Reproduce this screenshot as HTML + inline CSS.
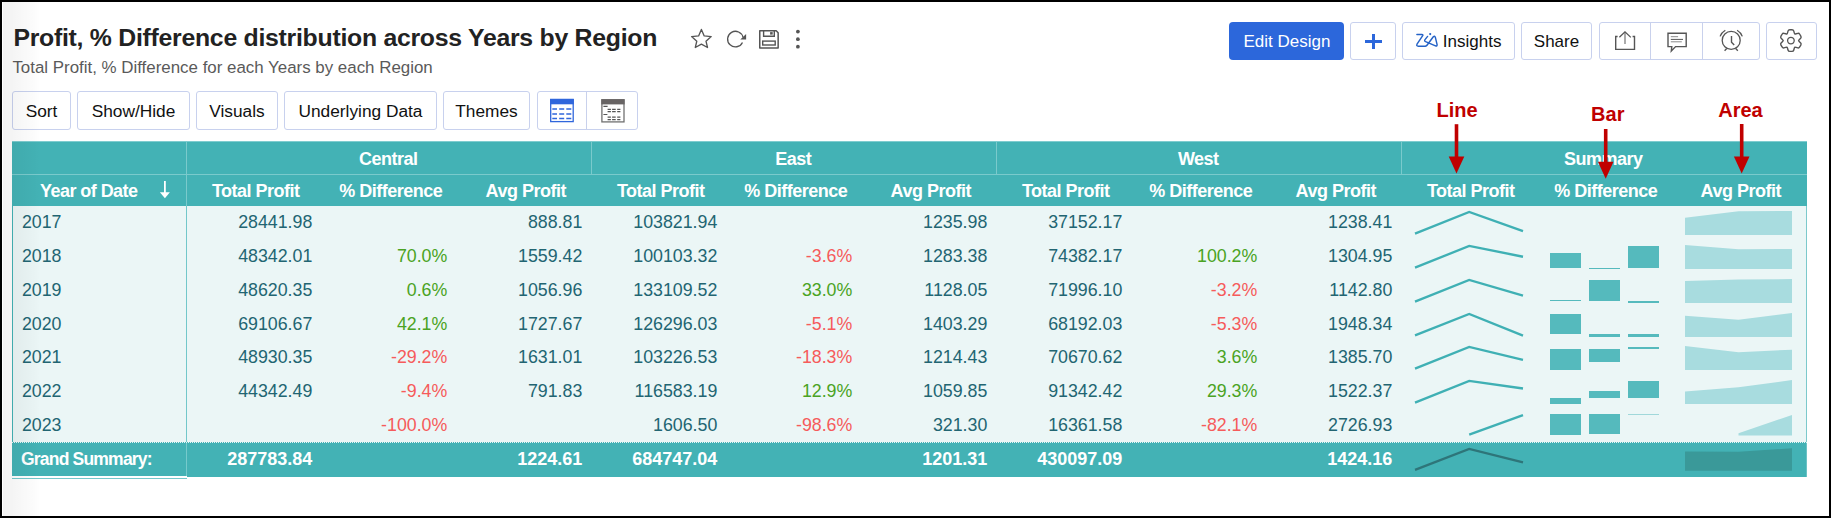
<!DOCTYPE html>
<html><head><meta charset="utf-8"><style>
html,body{margin:0;padding:0;}
body{width:1831px;height:518px;overflow:hidden;position:relative;background:#fff;font-family:"Liberation Sans", sans-serif;}
#frame{position:absolute;left:0;top:0;width:1831px;height:518px;box-sizing:border-box;border:2px solid #000;
background:#fff;}
#shade{position:absolute;left:3px;top:2px;width:40px;height:514px;background:linear-gradient(to right,rgba(0,0,0,0.052) 0px,rgba(0,0,0,0.046) 6px,rgba(0,0,0,0.036) 14px,rgba(0,0,0,0.024) 23px,rgba(0,0,0,0.012) 31px,rgba(0,0,0,0) 37px);}
.a{position:absolute;}
.t{position:absolute;white-space:nowrap;font-family:"Liberation Sans", sans-serif;}
.b{position:absolute;box-sizing:border-box;border:1px solid #c8d1ee;border-radius:3px;background:transparent;}
</style></head><body>
<div id="frame"></div>
<div class="t" style="top:26.00px;font-size:24.8px;line-height:24.8px;color:#222;font-weight:700;letter-spacing:-0.26px;left:13.40px;">Profit, % Difference distribution across Years by Region</div>
<div class="t" style="top:60.00px;font-size:16.9px;line-height:16.9px;color:#5a5a5a;font-weight:400;left:12.40px;">Total Profit, % Difference for each Years by each Region</div>
<svg class="a" style="left:688px;top:26px" width="120" height="26" viewBox="688 26 120 26">
<path d="M701.4 29.4 L704.2 35.9 L711.2 36.6 L706 41.2 L707.5 47.5 L701.4 44.2 L695.3 47.5 L696.8 41.2 L691.6 36.6 L698.6 35.9 Z" fill="none" stroke="#555" stroke-width="1.35" stroke-linejoin="round"/>
<path d="M742.47 42.4 A7.8 7.8 0 1 1 743.03 37.48" fill="none" stroke="#555" stroke-width="1.3"/>
<path d="M746.1 34 L746.1 39.6 L740.3 39.6 Z" fill="#555"/>
<path d="M759.75 30.75 H776.2 L778.15 32.7 V48.05 H759.75 Z" fill="none" stroke="#555" stroke-width="1.5" stroke-linejoin="round"/>
<path d="M763.6 31 V36.25 H774.3 V31" fill="none" stroke="#555" stroke-width="1.4"/>
<rect x="770.1" y="32.1" width="2.6" height="2.5" fill="#555"/>
<rect x="762.7" y="41.1" width="12.5" height="3.9" fill="none" stroke="#555" stroke-width="1.4"/>
<circle cx="797.9" cy="31.6" r="1.9" fill="#555"/><circle cx="797.9" cy="39.2" r="1.9" fill="#555"/><circle cx="797.9" cy="46.7" r="1.9" fill="#555"/>
</svg>
<div class="b" style="left:12px;top:91px;width:59px;height:39px;"></div>
<div class="t" style="top:103.00px;font-size:17.3px;line-height:17.3px;color:#111;font-weight:400;left:-258.50px;width:600px;text-align:center;">Sort</div>
<div class="b" style="left:77px;top:91px;width:113px;height:39px;"></div>
<div class="t" style="top:103.00px;font-size:17.3px;line-height:17.3px;color:#111;font-weight:400;left:-166.50px;width:600px;text-align:center;">Show/Hide</div>
<div class="b" style="left:196px;top:91px;width:82px;height:39px;"></div>
<div class="t" style="top:103.00px;font-size:17.3px;line-height:17.3px;color:#111;font-weight:400;left:-63.00px;width:600px;text-align:center;">Visuals</div>
<div class="b" style="left:284px;top:91px;width:153px;height:39px;"></div>
<div class="t" style="top:103.00px;font-size:17.3px;line-height:17.3px;color:#111;font-weight:400;left:60.50px;width:600px;text-align:center;">Underlying Data</div>
<div class="b" style="left:443px;top:91px;width:87px;height:39px;"></div>
<div class="t" style="top:103.00px;font-size:17.3px;line-height:17.3px;color:#111;font-weight:400;left:186.50px;width:600px;text-align:center;">Themes</div>
<div class="b" style="left:537px;top:91px;width:101px;height:39px;"></div>
<div class="a" style="left:586px;top:91px;width:1px;height:39px;background:#c9d1ec"></div>
<svg class="a" style="left:548px;top:96px" width="80" height="30" viewBox="548 96 80 30">
<rect x="550.7" y="99.5" width="22.5" height="22.1" fill="none" stroke="#2f66dc" stroke-width="1.3"/>
<rect x="550" y="98.9" width="23.8" height="5.4" fill="#2f66dc"/>
<g stroke="#2f66dc" stroke-width="1.5">
<path d="M552.3 109.1 h4.7 M559.2 109.1 h5 M566.3 109.1 h5 M552.3 113.9 h4.7 M559.2 113.9 h5 M566.3 113.9 h5 M552.3 118.4 h4.7 M559.2 118.4 h5 M566.3 118.4 h5"/>
</g>
<rect x="601.9" y="99.8" width="22.1" height="22.1" fill="none" stroke="#707070" stroke-width="1.3"/>
<rect x="601.3" y="99.2" width="23.3" height="5.2" fill="#686464"/>
<g stroke="#555" stroke-width="1.2">
<path d="M603.4 106.4 h4.2 M603.4 114.5 h4 M607.6 109.4 h3.3 M612.1 109.4 h3.6 M617.2 109.4 h3.2 M607.6 111.7 h3.3 M612.1 111.7 h3.6 M617.2 111.7 h3.2 M607.6 117.2 h3.3 M612.1 117.2 h3.6 M617.2 117.2 h3.2 M607.6 119.6 h3.3 M612.1 119.6 h3.6 M617.2 119.6 h3.2"/>
</g>
</svg>
<div class="a" style="left:1229px;top:22px;width:115px;height:38px;background:#2c67db;border-radius:4px"></div>
<div class="t" style="top:33.00px;font-size:17px;line-height:17px;color:#fff;font-weight:400;left:987.00px;width:600px;text-align:center;">Edit Design</div>
<div class="b" style="left:1350px;top:22px;width:46px;height:38px;"></div>
<div class="a" style="left:1365px;top:39.8px;width:17px;height:3px;background:#2c67db"></div><div class="a" style="left:1372px;top:33.5px;width:3px;height:15.5px;background:#2c67db"></div>
<div class="b" style="left:1402px;top:22px;width:113px;height:38px;"></div>
<svg class="a" style="left:1412px;top:30px" width="30" height="20" viewBox="1412 30 30 20">
<g fill="none" stroke="#2462c6" stroke-width="1.45" stroke-linejoin="round" stroke-linecap="round">
<path d="M1416.9 34.4 H1421.9 Q1423.4 34.5 1422.7 35.7 L1417 44.2 Q1416.1 46.2 1418.3 46.2 H1425.3 Q1426.5 46.1 1427.2 45 L1433.3 36.8 Q1434.6 35.6 1435.3 37.2 L1437.1 44.6 Q1437.3 46.4 1435.5 45.8 L1425.6 41.7 Q1424.1 41 1425 39.6 L1427.6 36.4"/>
</g>
<circle cx="1430.2" cy="34.1" r="1.1" fill="#2462c6"/>
</svg>
<div class="t" style="top:33.00px;font-size:17px;line-height:17px;color:#111;font-weight:400;left:1442.80px;">Insights</div>
<div class="b" style="left:1521px;top:22px;width:71px;height:38px;"></div>
<div class="t" style="top:33.00px;font-size:17px;line-height:17px;color:#111;font-weight:400;left:1256.50px;width:600px;text-align:center;">Share</div>
<div class="b" style="left:1599px;top:22px;width:161px;height:38px;"></div>
<div class="a" style="left:1650px;top:22px;width:1px;height:38px;background:#c9d1ec"></div><div class="a" style="left:1702px;top:22px;width:1px;height:38px;background:#c9d1ec"></div>
<div class="b" style="left:1766px;top:22px;width:51px;height:38px;"></div>
<svg class="a" style="left:1610px;top:26px" width="200" height="30" viewBox="1610 26 200 30">
<g fill="none" stroke="#555" stroke-width="1.5">
<path d="M1617.6 36.5 H1615.7 V49.4 H1634.5 V36.5 H1632.6" stroke-width="1.4"/>
<path d="M1625 32.6 V44" stroke="#888" stroke-width="1.4"/>
<path d="M1619.4 37.3 L1625 31.9 L1630.8 37.4" stroke-width="1.3"/>
<path d="M1668 33.2 H1686.2 V46.6 H1675.6 L1671.3 51 L1671.8 46.6 H1668 Z" stroke-width="1.4" stroke-linejoin="miter"/>
<path d="M1670.8 36.7 H1678.1 M1670.8 41.8 H1681.8" stroke="#8a8a8a" stroke-width="1"/>
<path d="M1670.8 39.4 H1683" stroke-width="1"/>
<circle cx="1731.2" cy="40.4" r="9.0" stroke-width="1.3"/>
<path d="M1731.5 36 V42.2 L1734.2 45" stroke-width="1.4"/>
<path d="M1720.1 36.4 A11.8 11.8 0 0 1 1725.3 30.2" stroke-width="1.3"/>
<path d="M1737.1 30.2 A11.8 11.8 0 0 1 1742.3 36.4" stroke-width="1.3"/>
<path d="M1726.7 48.6 L1724.6 50.7 M1735.7 48.6 L1737.8 50.7" stroke-width="1.4"/>
</g>
<g transform="translate(1790.9 40.6)" fill="none" stroke="#555" stroke-width="1.4" stroke-linejoin="round">
<path d="M-3.30 -7.92 L-2.81 -9.69 Q-2.50 -10.82 -1.10 -10.82 L1.10 -10.82 Q2.50 -10.82 2.81 -9.69 L3.30 -7.92 Q3.61 -6.80 3.75 -6.72 L3.95 -6.61 Q4.08 -6.53 5.21 -6.82 L6.99 -7.28 Q8.12 -7.57 8.82 -6.36 L9.92 -4.46 Q10.61 -3.25 9.80 -2.41 L8.51 -1.10 Q7.70 -0.27 7.70 -0.12 L7.70 0.12 Q7.70 0.27 8.51 1.10 L9.80 2.41 Q10.61 3.25 9.92 4.46 L8.82 6.36 Q8.12 7.57 6.99 7.28 L5.21 6.82 Q4.08 6.53 3.95 6.61 L3.75 6.72 Q3.61 6.80 3.30 7.92 L2.81 9.69 Q2.50 10.82 1.10 10.82 L-1.10 10.82 Q-2.50 10.82 -2.81 9.69 L-3.30 7.92 Q-3.61 6.80 -3.75 6.72 L-3.95 6.61 Q-4.08 6.53 -5.21 6.82 L-6.99 7.28 Q-8.12 7.57 -8.82 6.36 L-9.92 4.46 Q-10.61 3.25 -9.80 2.41 L-8.51 1.10 Q-7.70 0.27 -7.70 0.12 L-7.70 -0.12 Q-7.70 -0.27 -8.51 -1.10 L-9.80 -2.41 Q-10.61 -3.25 -9.92 -4.46 L-8.82 -6.36 Q-8.12 -7.57 -6.99 -7.28 L-5.21 -6.82 Q-4.08 -6.53 -3.95 -6.61 L-3.75 -6.72 Q-3.61 -6.80 -3.30 -7.92 Z"/>
<circle r="3.3" stroke-width="1.3"/>
</g>
</svg>
<div class="t" style="top:100.00px;font-size:20px;line-height:20px;color:#c00000;font-weight:700;left:1436.50px;">Line</div>
<div class="t" style="top:104.00px;font-size:20px;line-height:20px;color:#c00000;font-weight:700;left:1591.10px;">Bar</div>
<div class="t" style="top:100.00px;font-size:20px;line-height:20px;color:#c00000;font-weight:700;left:1718.20px;">Area</div>
<div class="a" style="left:12px;top:141px;width:1795px;height:65px;background:#43b2b5"></div>
<div class="a" style="left:12px;top:206px;width:1795px;height:236px;background:#ebf6f6"></div>
<div class="a" style="left:12px;top:442px;width:174px;height:34px;background:#43b2b5"></div>
<div class="a" style="left:187px;top:442px;width:1620px;height:35px;background:#43b2b5"></div>
<div class="a" style="left:12px;top:174px;width:1795px;height:1px;background:#7acacc"></div>
<div class="a" style="left:186px;top:141px;width:1px;height:33px;background:#7acacc"></div>
<div class="a" style="left:591px;top:141px;width:1px;height:33px;background:#7acacc"></div>
<div class="a" style="left:996px;top:141px;width:1px;height:33px;background:#7acacc"></div>
<div class="a" style="left:1401px;top:141px;width:1px;height:33px;background:#7acacc"></div>
<div class="a" style="left:186px;top:174px;width:1px;height:32px;background:#7acacc"></div>
<div class="a" style="left:186px;top:206px;width:1px;height:236px;background:#72c7ca"></div>
<div class="a" style="left:186px;top:442px;width:1px;height:34px;background:#76cacc"></div>
<div class="a" style="left:12px;top:141px;width:1795px;height:1px;background:#7fcccf"></div>
<div class="a" style="left:12px;top:206px;width:1px;height:236px;background:#43b2b5"></div>
<div class="a" style="left:1806px;top:206px;width:1px;height:236px;background:#7cc9cc"></div>
<div class="a" style="left:1806px;top:443px;width:1px;height:34px;background:#6cc2c5"></div>
<div class="a" style="left:12px;top:478px;width:175px;height:1px;background:#74c8cb"></div>
<div class="a" style="left:12px;top:442px;width:1795px;height:0;border-top:1px dotted #e8f5f5"></div>
<div class="t" style="top:150.00px;font-size:18px;line-height:18px;color:#fff;font-weight:700;letter-spacing:-0.5px;left:88.25px;width:600px;text-align:center;">Central</div>
<div class="t" style="top:150.00px;font-size:18px;line-height:18px;color:#fff;font-weight:700;letter-spacing:-0.5px;left:493.25px;width:600px;text-align:center;">East</div>
<div class="t" style="top:150.00px;font-size:18px;line-height:18px;color:#fff;font-weight:700;letter-spacing:-0.5px;left:898.25px;width:600px;text-align:center;">West</div>
<div class="t" style="top:150.00px;font-size:18px;line-height:18px;color:#fff;font-weight:700;letter-spacing:-0.5px;left:1303.25px;width:600px;text-align:center;">Summary</div>
<div class="t" style="top:182.00px;font-size:18px;line-height:18px;color:#fff;font-weight:700;letter-spacing:-0.55px;left:40.00px;">Year of Date</div>
<svg class="a" style="left:158px;top:180px" width="14" height="20" viewBox="158 180 14 20"><path d="M164.9 181 V194" stroke="#fff" stroke-width="1.8"/><path d="M159.9 192.3 H169.9 L164.9 198.2 Z" fill="#fff"/></svg>
<div class="t" style="top:182.00px;font-size:18px;line-height:18px;color:#fff;font-weight:700;letter-spacing:-0.5px;left:-44.25px;width:600px;text-align:center;">Total Profit</div>
<div class="t" style="top:182.00px;font-size:18px;line-height:18px;color:#fff;font-weight:700;letter-spacing:-0.5px;left:90.75px;width:600px;text-align:center;">% Difference</div>
<div class="t" style="top:182.00px;font-size:18px;line-height:18px;color:#fff;font-weight:700;letter-spacing:-0.5px;left:225.75px;width:600px;text-align:center;">Avg Profit</div>
<div class="t" style="top:182.00px;font-size:18px;line-height:18px;color:#fff;font-weight:700;letter-spacing:-0.5px;left:360.75px;width:600px;text-align:center;">Total Profit</div>
<div class="t" style="top:182.00px;font-size:18px;line-height:18px;color:#fff;font-weight:700;letter-spacing:-0.5px;left:495.75px;width:600px;text-align:center;">% Difference</div>
<div class="t" style="top:182.00px;font-size:18px;line-height:18px;color:#fff;font-weight:700;letter-spacing:-0.5px;left:630.75px;width:600px;text-align:center;">Avg Profit</div>
<div class="t" style="top:182.00px;font-size:18px;line-height:18px;color:#fff;font-weight:700;letter-spacing:-0.5px;left:765.75px;width:600px;text-align:center;">Total Profit</div>
<div class="t" style="top:182.00px;font-size:18px;line-height:18px;color:#fff;font-weight:700;letter-spacing:-0.5px;left:900.75px;width:600px;text-align:center;">% Difference</div>
<div class="t" style="top:182.00px;font-size:18px;line-height:18px;color:#fff;font-weight:700;letter-spacing:-0.5px;left:1035.75px;width:600px;text-align:center;">Avg Profit</div>
<div class="t" style="top:182.00px;font-size:18px;line-height:18px;color:#fff;font-weight:700;letter-spacing:-0.5px;left:1170.75px;width:600px;text-align:center;">Total Profit</div>
<div class="t" style="top:182.00px;font-size:18px;line-height:18px;color:#fff;font-weight:700;letter-spacing:-0.5px;left:1305.75px;width:600px;text-align:center;">% Difference</div>
<div class="t" style="top:182.00px;font-size:18px;line-height:18px;color:#fff;font-weight:700;letter-spacing:-0.5px;left:1440.75px;width:600px;text-align:center;">Avg Profit</div>
<div class="t" style="top:214.00px;font-size:17.8px;line-height:17.8px;color:#226572;font-weight:400;left:21.90px;">2017</div>
<div class="t" style="top:214.00px;font-size:17.8px;line-height:17.8px;color:#226572;font-weight:400;right:1518.70px;">28441.98</div>
<div class="t" style="top:214.00px;font-size:17.8px;line-height:17.8px;color:#226572;font-weight:400;right:1248.70px;">888.81</div>
<div class="t" style="top:214.00px;font-size:17.8px;line-height:17.8px;color:#226572;font-weight:400;right:1113.70px;">103821.94</div>
<div class="t" style="top:214.00px;font-size:17.8px;line-height:17.8px;color:#226572;font-weight:400;right:843.70px;">1235.98</div>
<div class="t" style="top:214.00px;font-size:17.8px;line-height:17.8px;color:#226572;font-weight:400;right:708.70px;">37152.17</div>
<div class="t" style="top:214.00px;font-size:17.8px;line-height:17.8px;color:#226572;font-weight:400;right:438.70px;">1238.41</div>
<div class="t" style="top:248.00px;font-size:17.8px;line-height:17.8px;color:#226572;font-weight:400;left:21.90px;">2018</div>
<div class="t" style="top:248.00px;font-size:17.8px;line-height:17.8px;color:#226572;font-weight:400;right:1518.70px;">48342.01</div>
<div class="t" style="top:248.00px;font-size:17.8px;line-height:17.8px;color:#4aa323;font-weight:400;right:1383.70px;">70.0%</div>
<div class="t" style="top:248.00px;font-size:17.8px;line-height:17.8px;color:#226572;font-weight:400;right:1248.70px;">1559.42</div>
<div class="t" style="top:248.00px;font-size:17.8px;line-height:17.8px;color:#226572;font-weight:400;right:1113.70px;">100103.32</div>
<div class="t" style="top:248.00px;font-size:17.8px;line-height:17.8px;color:#f65b5b;font-weight:400;right:978.70px;">-3.6%</div>
<div class="t" style="top:248.00px;font-size:17.8px;line-height:17.8px;color:#226572;font-weight:400;right:843.70px;">1283.38</div>
<div class="t" style="top:248.00px;font-size:17.8px;line-height:17.8px;color:#226572;font-weight:400;right:708.70px;">74382.17</div>
<div class="t" style="top:248.00px;font-size:17.8px;line-height:17.8px;color:#4aa323;font-weight:400;right:573.70px;">100.2%</div>
<div class="t" style="top:248.00px;font-size:17.8px;line-height:17.8px;color:#226572;font-weight:400;right:438.70px;">1304.95</div>
<div class="t" style="top:282.00px;font-size:17.8px;line-height:17.8px;color:#226572;font-weight:400;left:21.90px;">2019</div>
<div class="t" style="top:282.00px;font-size:17.8px;line-height:17.8px;color:#226572;font-weight:400;right:1518.70px;">48620.35</div>
<div class="t" style="top:282.00px;font-size:17.8px;line-height:17.8px;color:#4aa323;font-weight:400;right:1383.70px;">0.6%</div>
<div class="t" style="top:282.00px;font-size:17.8px;line-height:17.8px;color:#226572;font-weight:400;right:1248.70px;">1056.96</div>
<div class="t" style="top:282.00px;font-size:17.8px;line-height:17.8px;color:#226572;font-weight:400;right:1113.70px;">133109.52</div>
<div class="t" style="top:282.00px;font-size:17.8px;line-height:17.8px;color:#4aa323;font-weight:400;right:978.70px;">33.0%</div>
<div class="t" style="top:282.00px;font-size:17.8px;line-height:17.8px;color:#226572;font-weight:400;right:843.70px;">1128.05</div>
<div class="t" style="top:282.00px;font-size:17.8px;line-height:17.8px;color:#226572;font-weight:400;right:708.70px;">71996.10</div>
<div class="t" style="top:282.00px;font-size:17.8px;line-height:17.8px;color:#f65b5b;font-weight:400;right:573.70px;">-3.2%</div>
<div class="t" style="top:282.00px;font-size:17.8px;line-height:17.8px;color:#226572;font-weight:400;right:438.70px;">1142.80</div>
<div class="t" style="top:316.00px;font-size:17.8px;line-height:17.8px;color:#226572;font-weight:400;left:21.90px;">2020</div>
<div class="t" style="top:316.00px;font-size:17.8px;line-height:17.8px;color:#226572;font-weight:400;right:1518.70px;">69106.67</div>
<div class="t" style="top:316.00px;font-size:17.8px;line-height:17.8px;color:#4aa323;font-weight:400;right:1383.70px;">42.1%</div>
<div class="t" style="top:316.00px;font-size:17.8px;line-height:17.8px;color:#226572;font-weight:400;right:1248.70px;">1727.67</div>
<div class="t" style="top:316.00px;font-size:17.8px;line-height:17.8px;color:#226572;font-weight:400;right:1113.70px;">126296.03</div>
<div class="t" style="top:316.00px;font-size:17.8px;line-height:17.8px;color:#f65b5b;font-weight:400;right:978.70px;">-5.1%</div>
<div class="t" style="top:316.00px;font-size:17.8px;line-height:17.8px;color:#226572;font-weight:400;right:843.70px;">1403.29</div>
<div class="t" style="top:316.00px;font-size:17.8px;line-height:17.8px;color:#226572;font-weight:400;right:708.70px;">68192.03</div>
<div class="t" style="top:316.00px;font-size:17.8px;line-height:17.8px;color:#f65b5b;font-weight:400;right:573.70px;">-5.3%</div>
<div class="t" style="top:316.00px;font-size:17.8px;line-height:17.8px;color:#226572;font-weight:400;right:438.70px;">1948.34</div>
<div class="t" style="top:349.00px;font-size:17.8px;line-height:17.8px;color:#226572;font-weight:400;left:21.90px;">2021</div>
<div class="t" style="top:349.00px;font-size:17.8px;line-height:17.8px;color:#226572;font-weight:400;right:1518.70px;">48930.35</div>
<div class="t" style="top:349.00px;font-size:17.8px;line-height:17.8px;color:#f65b5b;font-weight:400;right:1383.70px;">-29.2%</div>
<div class="t" style="top:349.00px;font-size:17.8px;line-height:17.8px;color:#226572;font-weight:400;right:1248.70px;">1631.01</div>
<div class="t" style="top:349.00px;font-size:17.8px;line-height:17.8px;color:#226572;font-weight:400;right:1113.70px;">103226.53</div>
<div class="t" style="top:349.00px;font-size:17.8px;line-height:17.8px;color:#f65b5b;font-weight:400;right:978.70px;">-18.3%</div>
<div class="t" style="top:349.00px;font-size:17.8px;line-height:17.8px;color:#226572;font-weight:400;right:843.70px;">1214.43</div>
<div class="t" style="top:349.00px;font-size:17.8px;line-height:17.8px;color:#226572;font-weight:400;right:708.70px;">70670.62</div>
<div class="t" style="top:349.00px;font-size:17.8px;line-height:17.8px;color:#4aa323;font-weight:400;right:573.70px;">3.6%</div>
<div class="t" style="top:349.00px;font-size:17.8px;line-height:17.8px;color:#226572;font-weight:400;right:438.70px;">1385.70</div>
<div class="t" style="top:383.00px;font-size:17.8px;line-height:17.8px;color:#226572;font-weight:400;left:21.90px;">2022</div>
<div class="t" style="top:383.00px;font-size:17.8px;line-height:17.8px;color:#226572;font-weight:400;right:1518.70px;">44342.49</div>
<div class="t" style="top:383.00px;font-size:17.8px;line-height:17.8px;color:#f65b5b;font-weight:400;right:1383.70px;">-9.4%</div>
<div class="t" style="top:383.00px;font-size:17.8px;line-height:17.8px;color:#226572;font-weight:400;right:1248.70px;">791.83</div>
<div class="t" style="top:383.00px;font-size:17.8px;line-height:17.8px;color:#226572;font-weight:400;right:1113.70px;">116583.19</div>
<div class="t" style="top:383.00px;font-size:17.8px;line-height:17.8px;color:#4aa323;font-weight:400;right:978.70px;">12.9%</div>
<div class="t" style="top:383.00px;font-size:17.8px;line-height:17.8px;color:#226572;font-weight:400;right:843.70px;">1059.85</div>
<div class="t" style="top:383.00px;font-size:17.8px;line-height:17.8px;color:#226572;font-weight:400;right:708.70px;">91342.42</div>
<div class="t" style="top:383.00px;font-size:17.8px;line-height:17.8px;color:#4aa323;font-weight:400;right:573.70px;">29.3%</div>
<div class="t" style="top:383.00px;font-size:17.8px;line-height:17.8px;color:#226572;font-weight:400;right:438.70px;">1522.37</div>
<div class="t" style="top:417.00px;font-size:17.8px;line-height:17.8px;color:#226572;font-weight:400;left:21.90px;">2023</div>
<div class="t" style="top:417.00px;font-size:17.8px;line-height:17.8px;color:#f65b5b;font-weight:400;right:1383.70px;">-100.0%</div>
<div class="t" style="top:417.00px;font-size:17.8px;line-height:17.8px;color:#226572;font-weight:400;right:1113.70px;">1606.50</div>
<div class="t" style="top:417.00px;font-size:17.8px;line-height:17.8px;color:#f65b5b;font-weight:400;right:978.70px;">-98.6%</div>
<div class="t" style="top:417.00px;font-size:17.8px;line-height:17.8px;color:#226572;font-weight:400;right:843.70px;">321.30</div>
<div class="t" style="top:417.00px;font-size:17.8px;line-height:17.8px;color:#226572;font-weight:400;right:708.70px;">16361.58</div>
<div class="t" style="top:417.00px;font-size:17.8px;line-height:17.8px;color:#f65b5b;font-weight:400;right:573.70px;">-82.1%</div>
<div class="t" style="top:417.00px;font-size:17.8px;line-height:17.8px;color:#226572;font-weight:400;right:438.70px;">2726.93</div>
<div class="t" style="top:451.00px;font-size:17.5px;line-height:17.5px;color:#fff;font-weight:700;letter-spacing:-0.8px;left:21.00px;">Grand Summary:</div>
<div class="t" style="top:450.00px;font-size:18px;line-height:18px;color:#fff;font-weight:700;right:1518.70px;">287783.84</div>
<div class="t" style="top:450.00px;font-size:18px;line-height:18px;color:#fff;font-weight:700;right:1248.70px;">1224.61</div>
<div class="t" style="top:450.00px;font-size:18px;line-height:18px;color:#fff;font-weight:700;right:1113.70px;">684747.04</div>
<div class="t" style="top:450.00px;font-size:18px;line-height:18px;color:#fff;font-weight:700;right:843.70px;">1201.31</div>
<div class="t" style="top:450.00px;font-size:18px;line-height:18px;color:#fff;font-weight:700;right:708.70px;">430097.09</div>
<div class="t" style="top:450.00px;font-size:18px;line-height:18px;color:#fff;font-weight:700;right:438.70px;">1424.16</div>
<svg class="a" style="left:1401px;top:206px" width="406" height="272" viewBox="1401 206 406 272">
<path d="M1415,233.70 L1469.2,211.90 L1523,231.18" fill="none" stroke="#3fb0b4" stroke-width="2.35" stroke-linejoin="miter"/>
<path d="M1685,234.90 L1685,217.82 L1738.5,211.15 L1792,211.10 L1792,234.90Z" fill="#a8dcdf"/>
<path d="M1415,267.70 L1469.2,245.90 L1523,256.73" fill="none" stroke="#3fb0b4" stroke-width="2.35" stroke-linejoin="miter"/>
<path d="M1685,268.90 L1685,245.10 L1738.5,249.31 L1792,248.98 L1792,268.90Z" fill="#a8dcdf"/>
<rect x="1550" y="253" width="31" height="15" fill="#55babd" opacity="1.00"/>
<rect x="1589" y="268" width="31" height="1" fill="#55babd" opacity="1.00"/>
<rect x="1628" y="246" width="31" height="22" fill="#55babd" opacity="1.00"/>
<path d="M1415,301.70 L1469.2,279.90 L1523,295.67" fill="none" stroke="#3fb0b4" stroke-width="2.35" stroke-linejoin="miter"/>
<path d="M1685,302.90 L1685,280.89 L1738.5,279.41 L1792,279.10 L1792,302.90Z" fill="#a8dcdf"/>
<rect x="1550" y="300" width="31" height="1" fill="#55babd" opacity="1.00"/>
<rect x="1589" y="280" width="31" height="21" fill="#55babd" opacity="1.00"/>
<rect x="1628" y="301" width="31" height="2" fill="#55babd" opacity="1.00"/>
<path d="M1415,335.36 L1469.2,313.90 L1523,335.70" fill="none" stroke="#3fb0b4" stroke-width="2.35" stroke-linejoin="miter"/>
<path d="M1685,336.90 L1685,315.80 L1738.5,319.76 L1792,313.10 L1792,336.90Z" fill="#a8dcdf"/>
<rect x="1550" y="314" width="31" height="20" fill="#55babd" opacity="1.00"/>
<rect x="1589" y="334" width="31" height="3" fill="#55babd" opacity="1.00"/>
<rect x="1628" y="334" width="31" height="3" fill="#55babd" opacity="1.00"/>
<path d="M1415,368.70 L1469.2,346.90 L1523,359.97" fill="none" stroke="#3fb0b4" stroke-width="2.35" stroke-linejoin="miter"/>
<path d="M1685,369.90 L1685,346.10 L1738.5,352.18 L1792,349.68 L1792,369.90Z" fill="#a8dcdf"/>
<rect x="1550" y="349" width="31" height="21" fill="#55babd" opacity="1.00"/>
<rect x="1589" y="349" width="31" height="13" fill="#55babd" opacity="1.00"/>
<rect x="1628" y="347" width="31" height="2" fill="#55babd" opacity="1.00"/>
<path d="M1415,402.70 L1469.2,380.90 L1523,388.52" fill="none" stroke="#3fb0b4" stroke-width="2.35" stroke-linejoin="miter"/>
<path d="M1685,403.90 L1685,391.52 L1738.5,387.33 L1792,380.10 L1792,403.90Z" fill="#a8dcdf"/>
<rect x="1550" y="398" width="31" height="6" fill="#55babd" opacity="1.00"/>
<rect x="1589" y="391" width="31" height="7" fill="#55babd" opacity="1.00"/>
<rect x="1628" y="381" width="31" height="17" fill="#55babd" opacity="1.00"/>
<path d="M1469.2,434.60 L1523,415.20" fill="none" stroke="#3fb0b4" stroke-width="2.35" stroke-linejoin="miter"/>
<path d="M1738.5,435.60 L1738.5,433.17 L1792,415.00 L1792,435.60Z" fill="#a8dcdf"/>
<rect x="1550" y="414" width="31" height="21" fill="#55babd" opacity="1.00"/>
<rect x="1589" y="414" width="31" height="20" fill="#55babd" opacity="1.00"/>
<rect x="1628" y="414" width="31" height="1" fill="#55babd" opacity="0.50"/>
<path d="M1415,469.90 L1469.2,448.90 L1523,462.37" fill="none" stroke="#2e7579" stroke-width="2.2"/>
<path d="M1685,470.80 L1685,451.45 L1738.5,451.82 L1792,448.30 L1792,470.80Z" fill="#3a9999"/>
</svg>
<svg class="a" style="left:1440px;top:120px" width="320" height="62" viewBox="1440 120 320 62">
<path d="M1456.5 124.2 V158.5" stroke="#c00000" stroke-width="3.6"/>
<path d="M1448.7 156.5 H1464.3 L1456.5 173.5 Z" fill="#c00000"/>
<path d="M1605.7 129 V163.7" stroke="#c00000" stroke-width="3.6"/>
<path d="M1597.9 161.7 H1613.5 L1605.7 178.7 Z" fill="#c00000"/>
<path d="M1741.7 124 V158.5" stroke="#c00000" stroke-width="3.6"/>
<path d="M1733.9 156.5 H1749.5 L1741.7 173.5 Z" fill="#c00000"/>
</svg>

<div id="shade"></div>
</body></html>
